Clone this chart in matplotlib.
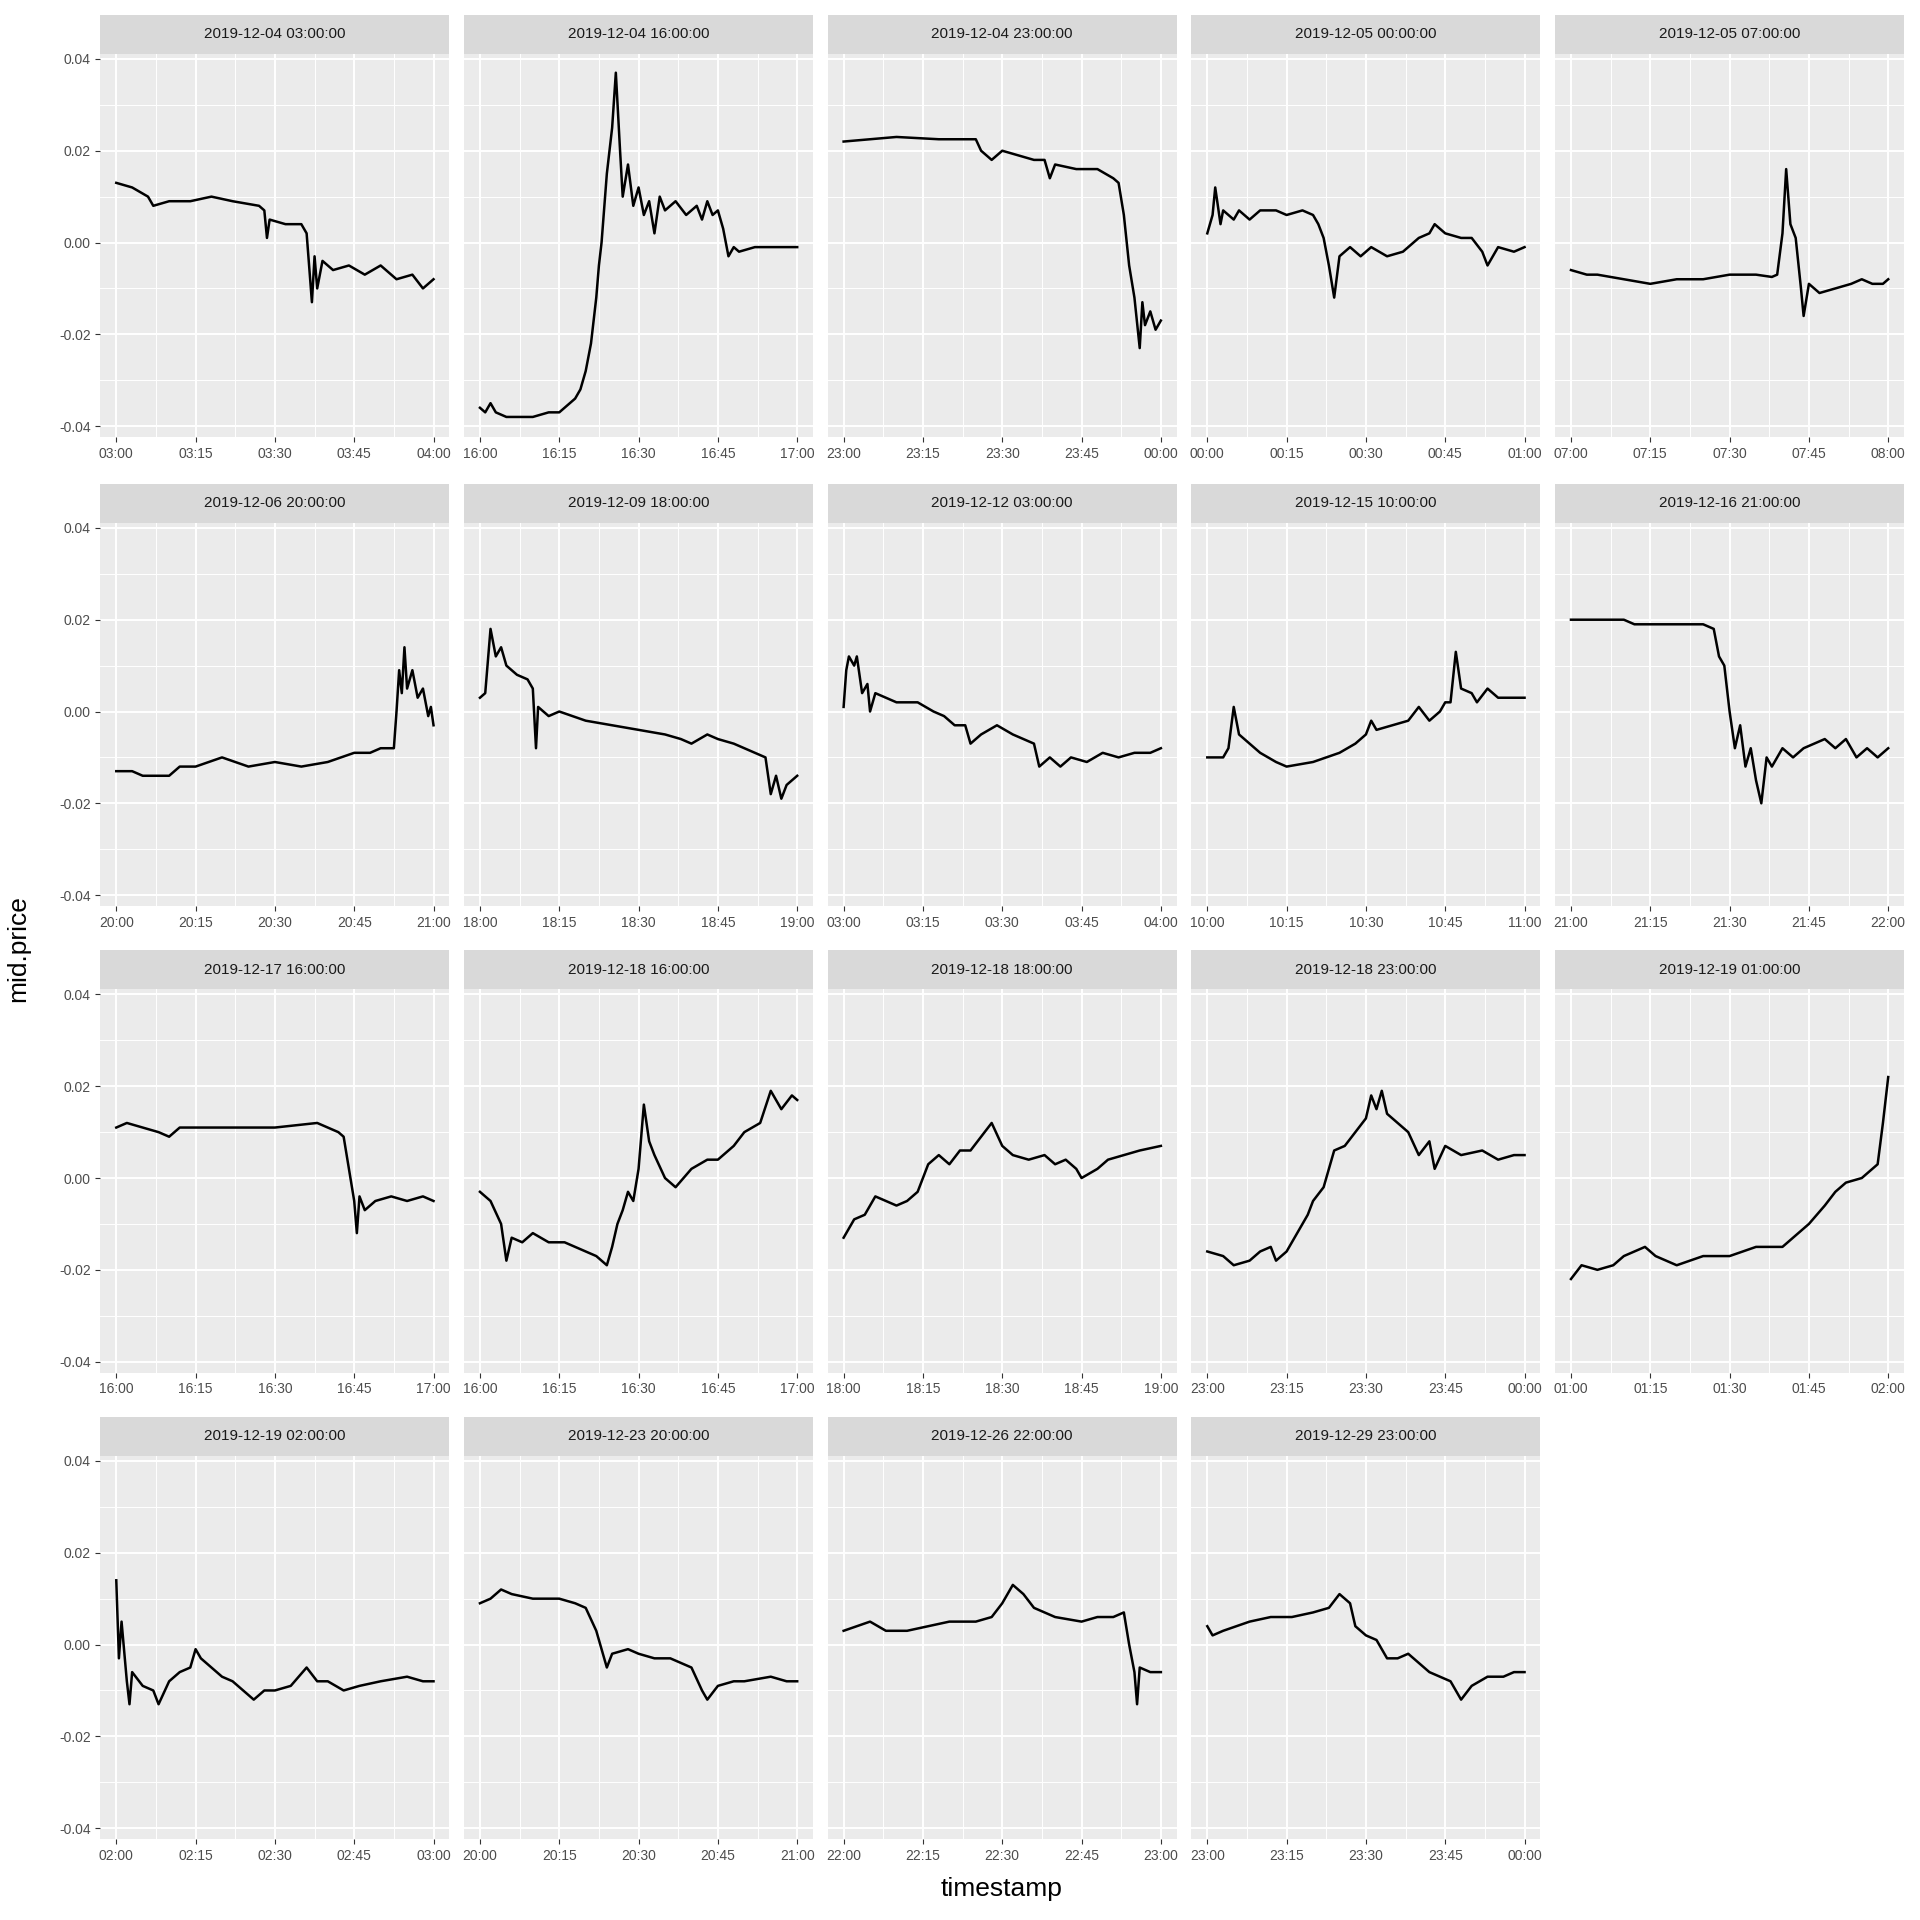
import matplotlib
matplotlib.use("Agg")
import matplotlib.pyplot as plt
import numpy as np
plt.rcParams['font.family'] = ['Liberation Sans', 'DejaVu Sans']

titles = ["2019-12-04 03:00:00","2019-12-04 16:00:00","2019-12-04 23:00:00","2019-12-05 00:00:00","2019-12-05 07:00:00",
          "2019-12-06 20:00:00","2019-12-09 18:00:00","2019-12-12 03:00:00","2019-12-15 10:00:00","2019-12-16 21:00:00",
          "2019-12-17 16:00:00","2019-12-18 16:00:00","2019-12-18 18:00:00","2019-12-18 23:00:00","2019-12-19 01:00:00",
          "2019-12-19 02:00:00","2019-12-23 20:00:00","2019-12-26 22:00:00","2019-12-29 23:00:00"]
start_hours = [3,16,23,0,7,20,18,3,10,21,16,16,18,23,1,2,20,22,23]

# (minute after start, mid.price)
p01 = [(0,.013),(3,.012),(6,.010),(7,.008),(10,.009),(14,.009),(18,.010),(22,.009),(27,.008),(28,.007),(28.5,.001),(29,.005),(32,.004),(35,.004),(36,.002),(37,-.013),(37.5,-.003),(38,-.010),(39,-.004),(41,-.006),(44,-.005),(47,-.007),(50,-.005),(53,-.008),(56,-.007),(58,-.010),(60,-.008)]
p02 = [(0,-.036),(1,-.037),(2,-.035),(3,-.037),(5,-.038),(10,-.038),(13,-.037),(15,-.037),(17,-.035),(18,-.034),(19,-.032),(20,-.028),(21,-.022),(22,-.012),(22.5,-.005),(23,.000),(24,.015),(25,.025),(25.7,.037),(26.5,.020),(27,.010),(28,.017),(29,.008),(30,.012),(31,.006),(32,.009),(33,.002),(34,.010),(35,.007),(37,.009),(39,.006),(41,.008),(42,.005),(43,.009),(44,.006),(45,.007),(46,.003),(47,-.003),(48,-.001),(49,-.002),(52,-.001),(60,-.001)]
p03 = [(0,.022),(5,.0225),(10,.023),(18,.0225),(25,.0225),(26,.020),(27,.019),(28,.018),(30,.020),(33,.019),(36,.018),(38,.018),(39,.014),(40,.017),(44,.016),(48,.016),(51,.014),(52,.013),(53,.006),(54,-.005),(55,-.012),(56,-.023),(56.5,-.013),(57,-.018),(58,-.015),(59,-.019),(60,-.017)]
p04 = [(0,.002),(1,.006),(1.5,.012),(2.5,.004),(3,.007),(5,.005),(6,.007),(8,.005),(10,.007),(13,.007),(15,.006),(18,.007),(20,.006),(21,.004),(22,.001),(23,-.005),(24,-.012),(25,-.003),(27,-.001),(29,-.003),(31,-.001),(34,-.003),(37,-.002),(40,.001),(42,.002),(43,.004),(45,.002),(48,.001),(50,.001),(52,-.002),(53,-.005),(55,-.001),(58,-.002),(60,-.001)]
p05 = [(0,-.006),(3,-.007),(5,-.007),(10,-.008),(15,-.009),(20,-.008),(25,-.008),(30,-.007),(35,-.007),(38,-.0075),(39,-.007),(40,.002),(40.7,.016),(41.5,.004),(42.5,.001),(43.5,-.010),(44,-.016),(45,-.009),(47,-.011),(50,-.010),(53,-.009),(55,-.008),(57,-.009),(59,-.009),(60,-.008)]
p06 = [(0,-.013),(3,-.013),(5,-.014),(10,-.014),(12,-.012),(15,-.012),(20,-.010),(25,-.012),(30,-.011),(35,-.012),(40,-.011),(45,-.009),(48,-.009),(50,-.008),(52.5,-.008),(53,.000),(53.5,.009),(54,.004),(54.5,.014),(55,.005),(56,.009),(57,.003),(58,.005),(59,-.001),(59.5,.001),(60,-.003)]
p07 = [(0,.003),(1,.004),(2,.018),(3,.012),(4,.014),(5,.010),(7,.008),(9,.007),(10,.005),(10.6,-.008),(11,.001),(13,-.001),(15,.000),(20,-.002),(25,-.003),(30,-.004),(35,-.005),(38,-.006),(40,-.007),(43,-.005),(45,-.006),(48,-.007),(50,-.008),(54,-.010),(55,-.018),(56,-.014),(57,-.019),(58,-.016),(60,-.014)]
p08 = [(0,.001),(0.5,.009),(1,.012),(2,.010),(2.5,.012),(3.5,.004),(4.5,.006),(5,.000),(6,.004),(8,.003),(10,.002),(14,.002),(17,.000),(19,-.001),(21,-.003),(23,-.003),(24,-.007),(26,-.005),(29,-.003),(32,-.005),(34,-.006),(36,-.007),(37,-.012),(39,-.010),(41,-.012),(43,-.010),(46,-.011),(49,-.009),(52,-.010),(55,-.009),(58,-.009),(60,-.008)]
p09 = [(0,-.010),(3,-.010),(4,-.008),(5,.001),(6,-.005),(8,-.007),(10,-.009),(13,-.011),(15,-.012),(20,-.011),(25,-.009),(28,-.007),(30,-.005),(31,-.002),(32,-.004),(35,-.003),(38,-.002),(40,.001),(42,-.002),(44,.000),(45,.002),(46,.002),(47,.013),(48,.005),(50,.004),(51,.002),(53,.005),(55,.003),(58,.003),(60,.003)]
p10 = [(0,.020),(10,.020),(12,.019),(20,.019),(25,.019),(27,.018),(28,.012),(29,.010),(30,.000),(31,-.008),(32,-.003),(33,-.012),(34,-.008),(35,-.015),(36,-.020),(37,-.010),(38,-.012),(40,-.008),(42,-.010),(44,-.008),(46,-.007),(48,-.006),(50,-.008),(52,-.006),(54,-.010),(56,-.008),(58,-.010),(60,-.008)]
p11 = [(0,.011),(2,.012),(5,.011),(8,.010),(10,.009),(12,.011),(20,.011),(30,.011),(38,.012),(40,.011),(42,.010),(43,.009),(44,.002),(45,-.005),(45.5,-.012),(46,-.004),(47,-.007),(49,-.005),(52,-.004),(55,-.005),(58,-.004),(60,-.005)]
p12 = [(0,-.003),(2,-.005),(4,-.010),(5,-.018),(6,-.013),(8,-.014),(10,-.012),(13,-.014),(16,-.014),(20,-.016),(22,-.017),(24,-.019),(25,-.015),(26,-.010),(27,-.007),(28,-.003),(29,-.005),(30,.002),(31,.016),(32,.008),(33,.005),(35,.000),(37,-.002),(40,.002),(43,.004),(45,.004),(48,.007),(50,.010),(53,.012),(55,.019),(57,.015),(59,.018),(60,.017)]
p13 = [(0,-.013),(2,-.009),(4,-.008),(5,-.006),(6,-.004),(8,-.005),(10,-.006),(12,-.005),(14,-.003),(16,.003),(18,.005),(20,.003),(22,.006),(24,.006),(26,.009),(28,.012),(30,.007),(32,.005),(35,.004),(38,.005),(40,.003),(42,.004),(44,.002),(45,.000),(48,.002),(50,.004),(53,.005),(56,.006),(60,.007)]
p14 = [(0,-.016),(3,-.017),(5,-.019),(8,-.018),(10,-.016),(12,-.015),(13,-.018),(15,-.016),(17,-.012),(19,-.008),(20,-.005),(22,-.002),(24,.006),(26,.007),(28,.010),(30,.013),(31,.018),(32,.015),(33,.019),(34,.014),(36,.012),(38,.010),(40,.005),(42,.008),(43,.002),(45,.007),(48,.005),(52,.006),(55,.004),(58,.005),(60,.005)]
p15 = [(0,-.022),(2,-.019),(5,-.020),(8,-.019),(10,-.017),(14,-.015),(16,-.017),(20,-.019),(25,-.017),(30,-.017),(35,-.015),(40,-.015),(42,-.013),(45,-.010),(48,-.006),(50,-.003),(52,-.001),(55,.000),(57,.002),(58,.003),(59,.012),(60,.022)]
p16 = [(0,.014),(0.5,-.003),(1,.005),(2,-.008),(2.5,-.013),(3,-.006),(5,-.009),(7,-.010),(8,-.013),(10,-.008),(12,-.006),(14,-.005),(15,-.001),(16,-.003),(18,-.005),(20,-.007),(22,-.008),(24,-.010),(26,-.012),(28,-.010),(30,-.010),(33,-.009),(36,-.005),(38,-.008),(40,-.008),(43,-.010),(46,-.009),(50,-.008),(55,-.007),(58,-.008),(60,-.008)]
p17 = [(0,.009),(2,.010),(4,.012),(6,.011),(10,.010),(15,.010),(18,.009),(20,.008),(22,.003),(23,-.001),(24,-.005),(25,-.002),(28,-.001),(30,-.002),(33,-.003),(36,-.003),(40,-.005),(42,-.010),(43,-.012),(45,-.009),(48,-.008),(50,-.008),(55,-.007),(58,-.008),(60,-.008)]
p18 = [(0,.003),(5,.005),(8,.003),(12,.003),(16,.004),(20,.005),(25,.005),(28,.006),(30,.009),(32,.013),(34,.011),(36,.008),(38,.007),(40,.006),(45,.005),(48,.006),(51,.006),(53,.007),(54,.000),(55,-.006),(55.5,-.013),(56,-.005),(58,-.006),(60,-.006)]
p19 = [(0,.004),(1,.002),(3,.003),(8,.005),(12,.006),(16,.006),(20,.007),(23,.008),(25,.011),(27,.009),(28,.004),(30,.002),(32,.001),(34,-.003),(36,-.003),(38,-.002),(40,-.004),(42,-.006),(44,-.007),(46,-.008),(48,-.012),(50,-.009),(53,-.007),(56,-.007),(58,-.006),(60,-.006)]
series = [p01,p02,p03,p04,p05,p06,p07,p08,p09,p10,p11,p12,p13,p14,p15,p16,p17,p18,p19]

S = 1568.0
fig = plt.figure(figsize=(19.2, 19.2), dpi=100)
col_x = [82, 379, 676, 973, 1270]
pw = 285
row_strip = [12, 395, 776, 1157]
sh = 32
ph = 313
for i, (t, h, s) in enumerate(zip(titles, start_hours, series)):
    r, c = divmod(i, 5)
    x0 = col_x[c]; ytop = row_strip[r] + sh
    ax = fig.add_axes([x0/S, 1-(ytop+ph)/S, pw/S, ph/S])
    ax.set_facecolor("#EBEBEB")
    for sp in ax.spines.values(): sp.set_visible(False)
    xs = [p[0] for p in s]; ys = [p[1] for p in s]
    ax.set_xlim(-3, 63); ax.set_ylim(-0.0424, 0.0411)
    ax.set_xticks([0,15,30,45,60]); ax.set_xticks([7.5,22.5,37.5,52.5], minor=True)
    ax.set_yticks([-0.04,-0.02,0,0.02,0.04]); ax.set_yticks([-0.03,-0.01,0.01,0.03], minor=True)
    ax.grid(True, which="major", color="white", lw=1.4)
    ax.grid(True, which="minor", color="white", lw=0.7)
    ax.set_axisbelow(True)
    ax.plot(xs, ys, color="black", lw=1.8)
    ax.tick_params(which="both", length=0)
    ax.tick_params(which="major", length=3.5, color="#333333", labelsize=10, labelcolor="#4D4D4D")
    ax.set_xticklabels(["%02d:%02d" % ((h + (m // 60)) % 24, m % 60) for m in [0,15,30,45,60]])
    if c == 0:
        ax.set_yticklabels(["-0.04","-0.02","0.00","0.02","0.04"])
    else:
        ax.tick_params(axis="y", which="major", length=0, labelleft=False)
    sax = fig.add_axes([x0/S, 1-ytop/S, pw/S, sh/S])
    sax.set_facecolor("#D9D9D9"); sax.set_xticks([]); sax.set_yticks([])
    for sp in sax.spines.values(): sp.set_visible(False)
    sax.text(0.5, 0.5, t, ha="center", va="center", fontsize=11, color="#1A1A1A", transform=sax.transAxes)

fig.text(818/S, 1-1543/S, "timestamp", ha="center", va="center", fontsize=19)
fig.text(15/S, 1-775/S, "mid.price", ha="center", va="center", rotation=90, fontsize=19)
fig.savefig("out.png", dpi=100, facecolor="white")
